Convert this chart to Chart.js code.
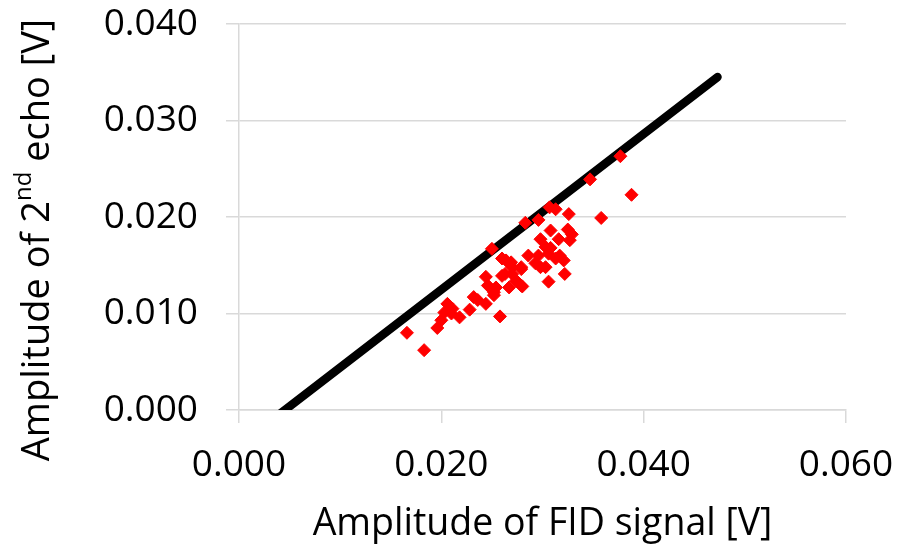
<!DOCTYPE html>
<head>
    <title>FID vs 2nd echo</title>
    <script src="https://cdn.jsdelivr.net/npm/chart.js"></script>
    <style>
        body { margin: 0; background: white; }
        #box { width: 903px; height: 551px; }
    </style>
</head>
<body>
<div id="box">
    <canvas id="echoChart" width="903" height="551"></canvas>
</div>
<script>
// amplitudes of the FID signal [V]
const fidX = [0.0377, 0.0347, 0.0388, 0.0307, 0.0313, 0.0326, 0.0358, 0.0283, 0.0296, 0.0308,
              0.0325, 0.0329, 0.0327, 0.0298, 0.0316, 0.0250, 0.0303, 0.0308, 0.0286, 0.0296,
              0.0317, 0.0260, 0.0269, 0.0321, 0.0293, 0.0303, 0.0279, 0.0270, 0.0263, 0.0322,
              0.0244, 0.0274, 0.0254, 0.0306, 0.0267, 0.0280, 0.0246, 0.0252, 0.0232, 0.0244,
              0.0228, 0.0206, 0.0211, 0.0203, 0.0218, 0.0200, 0.0258, 0.0196, 0.0166, 0.0183,
              0.0306, 0.0313, 0.0298, 0.0264, 0.0270, 0.0279, 0.0260, 0.0279, 0.0210, 0.0252,
              0.0236];
// amplitudes of the 2nd echo [V]
const echoY = [0.0263, 0.0239, 0.0223, 0.0210, 0.0208, 0.0203, 0.0199, 0.0194, 0.0197, 0.0186,
               0.0187, 0.0182, 0.0176, 0.0177, 0.0177, 0.0167, 0.0169, 0.0168, 0.0160, 0.0160,
               0.0160, 0.0157, 0.0153, 0.0155, 0.0152, 0.0148, 0.0146, 0.0141, 0.0141, 0.0141,
               0.0138, 0.0134, 0.0127, 0.0133, 0.0127, 0.0128, 0.0129, 0.0119, 0.0117, 0.0110,
               0.0104, 0.0110, 0.0105, 0.0101, 0.0096, 0.0093, 0.0097, 0.0085, 0.0080, 0.0062,
               0.0162, 0.0157, 0.0148, 0.0155, 0.0148, 0.0148, 0.0139, 0.0129, 0.0100, 0.0122,
               0.0114];
// reference line end points
const lineX = [0.0033, 0.0473];
const lineY = [-0.0010, 0.0345];

const xTicks = [0.000, 0.020, 0.040, 0.060];
const yTicks = [0.000, 0.010, 0.020, 0.030, 0.040];

const points = fidX.map((x, i) => ({x: x, y: echoY[i]}));
const linePts = lineX.map((x, i) => ({x: x, y: lineY[i]}));

const gridGray = '#d9d9d9';
const fontName = "'Open Sans', sans-serif";

// y title has a superscript, so it is drawn by hand
const yTitlePlugin = {
    id: 'yTitle',
    afterDraw(chart) {
        const ctx = chart.ctx;
        const big = "38px " + fontName;
        const small = "24px " + fontName;
        const parts = [
            {t: 'Amplitude of 2', f: big, dy: 0},
            {t: 'nd', f: small, dy: -14},
            {t: ' echo [V]', f: big, dy: 0}
        ];
        let total = 0;
        parts.forEach(p => { ctx.font = p.f; p.w = ctx.measureText(p.t).width; total += p.w; });
        ctx.save();
        ctx.translate(38, 240);
        ctx.rotate(-Math.PI / 2);
        ctx.fillStyle = '#000';
        ctx.textBaseline = 'middle';
        let x = -total / 2;
        parts.forEach(p => {
            ctx.font = p.f;
            ctx.fillText(p.t, x, p.dy);
            x += p.w;
        });
        ctx.restore();
    }
};

new Chart(document.getElementById('echoChart'), {
    type: 'scatter',
    data: {
        datasets: [{
            data: points,
            pointStyle: 'rectRot',
            pointRadius: 6.5,
            pointBackgroundColor: '#ff0000',
            pointBorderColor: '#ff0000',
            pointBorderWidth: 1,
            order: 1
        }, {
            type: 'line',
            data: linePts,
            borderColor: '#000',
            borderWidth: 8.5,
            borderCapStyle: 'round',
            pointRadius: 0,
            clip: 0,
            order: 2
        }]
    },
    options: {
        responsive: false,
        animation: false,
        layout: { autoPadding: false, padding: { left: 0, right: 57, top: 24, bottom: 0 } },
        plugins: { legend: { display: false }, tooltip: { enabled: false } },
        scales: {
            x: {
                type: 'linear',
                min: 0, max: 0.06,
                afterBuildTicks: s => { s.ticks = xTicks.map(v => ({value: v})); },
                afterFit: s => { s.height = 141; s.paddingLeft = 0; s.paddingRight = 0; },
                grid: { drawOnChartArea: false, color: gridGray, lineWidth: 1.5, tickLength: 13 },
                border: { color: gridGray, width: 1.5 },
                ticks: {
                    color: '#000',
                    font: { family: fontName, size: 37 },
                    padding: 20,
                    maxRotation: 0,
                    callback: v => v.toFixed(3)
                },
                title: {
                    display: true,
                    text: 'Amplitude of FID signal [V]',
                    color: '#000',
                    font: { family: fontName, size: 37.5 },
                    padding: { top: 0, bottom: 4 }
                }
            },
            y: {
                type: 'linear',
                min: 0, max: 0.04,
                afterBuildTicks: s => { s.ticks = yTicks.map(v => ({value: v})); },
                afterFit: s => { s.width = 239; s.paddingTop = 0; s.paddingBottom = 0; },
                grid: { color: gridGray, lineWidth: 1.5, tickLength: 13 },
                border: { color: gridGray, width: 1.5 },
                ticks: {
                    color: '#000',
                    font: { family: fontName, size: 37 },
                    padding: 28,
                    callback: v => v.toFixed(3)
                }
            }
        }
    },
    plugins: [yTitlePlugin]
});
</script>
</body>
